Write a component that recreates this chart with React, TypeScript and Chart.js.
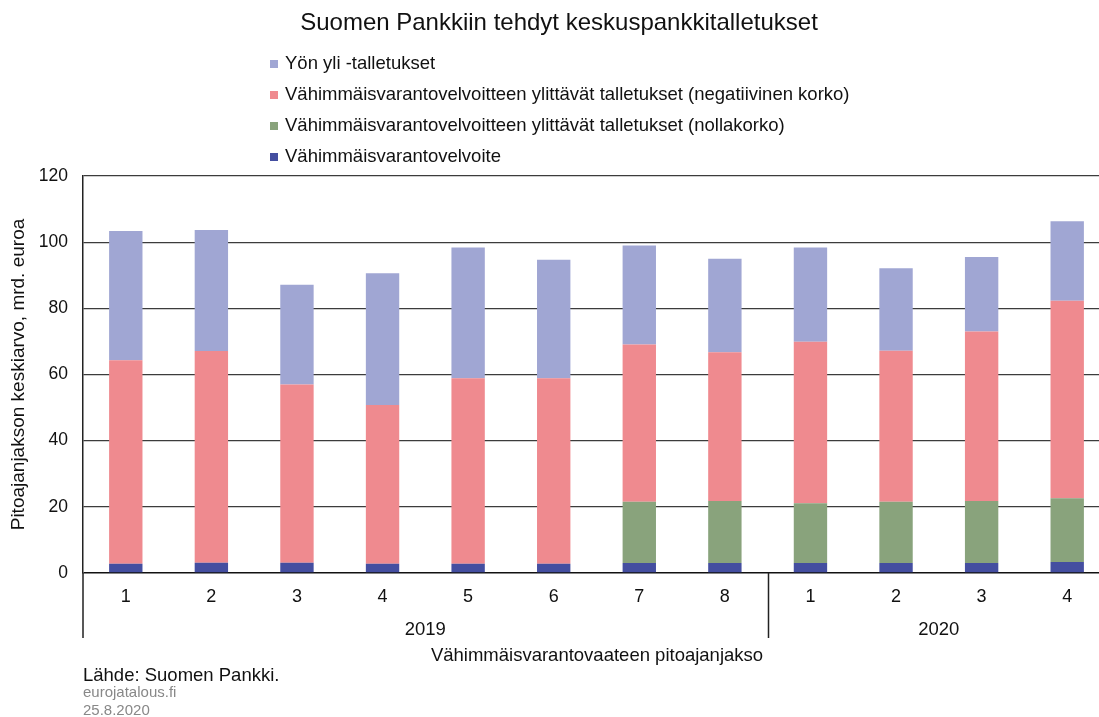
import React, { useEffect, useRef } from "react";
import { Chart, registerables } from "chart.js";

Chart.register(...registerables);

const chartTitle = "Suomen Pankkiin tehdyt keskuspankkitalletukset";
const periods = ["1", "2", "3", "4", "5", "6", "7", "8", "1", "2", "3", "4"];
const years = ["2019", "2020"];
const yearSpans = [8, 4];
const velvoite = [2.8, 3.1, 3.1, 2.8, 2.8, 2.8, 3.0, 3.0, 3.0, 3.0, 3.0, 3.3];
const nollakorko = [0, 0, 0, 0, 0, 0, 18.5, 18.8, 18.1, 18.5, 18.8, 19.3];
const negatiivinen = [61.5, 64.0, 53.9, 48.0, 56.1, 56.1, 47.6, 44.9, 48.8, 45.7, 51.2, 59.7];
const yonYli = [39.1, 36.6, 30.1, 39.8, 39.5, 35.8, 29.9, 28.3, 28.5, 24.9, 22.5, 24.0];
const seriesLabels = [
  "Vähimmäisvarantovelvoite",
  "Vähimmäisvarantovelvoitteen ylittävät talletukset (nollakorko)",
  "Vähimmäisvarantovelvoitteen ylittävät talletukset (negatiivinen korko)",
  "Yön yli -talletukset",
];
const seriesColors = ["#444ea0", "#89a37c", "#ef8a8f", "#a0a6d3"];
const yTitle = "Pitoajanjakson keskiarvo, mrd. euroa";
const xTitle = "Vähimmäisvarantovaateen pitoajanjakso";
const source = "Lähde: Suomen Pankki.";
const site = "eurojatalous.fi";
const dateText = "25.8.2020";

const FONT = '"Liberation Sans", Arial, sans-serif';
const W = 1120;
const H = 717;

const overlay = {
  id: "overlay",
  afterDraw(chart: any) {
    const ctx = chart.ctx as CanvasRenderingContext2D;
    const area = chart.chartArea;
    const xs = chart.scales.x;
    ctx.save();
    // title
    ctx.fillStyle = "#111";
    ctx.font = `24px ${FONT}`;
    ctx.textAlign = "center";
    ctx.textBaseline = "middle";
    ctx.fillText(chartTitle, 559, 23);
    // legend (reverse order)
    ctx.font = `18.5px ${FONT}`;
    ctx.textAlign = "left";
    const order = [3, 2, 1, 0];
    order.forEach((di, i) => {
      const y = 64 + i * 31;
      ctx.fillStyle = seriesColors[di];
      ctx.fillRect(270, y - 4, 8, 8);
      ctx.fillStyle = "#111";
      ctx.fillText(seriesLabels[di], 285, y);
    });
    // y title
    ctx.save();
    ctx.translate(19, (area.top + area.bottom) / 2);
    ctx.rotate(-Math.PI / 2);
    ctx.textAlign = "center";
    ctx.fillStyle = "#111";
    ctx.font = `19px ${FONT}`;
    ctx.fillText(yTitle, 0, 0);
    ctx.restore();
    // axis extension & separators
    ctx.strokeStyle = "#222";
    ctx.lineWidth = 1.5;
    const sepBottom = 638;
    ctx.beginPath();
    ctx.moveTo(area.left, area.bottom);
    ctx.lineTo(area.left, sepBottom);
    let start = 0;
    yearSpans.forEach((span, gi) => {
      const end = start + span;
      const half = (xs.getPixelForValue(1) - xs.getPixelForValue(0)) / 2;
      const x0 = xs.getPixelForValue(start) - half;
      const x1 = xs.getPixelForValue(end - 1) + half;
      if (gi < yearSpans.length - 1) {
        ctx.moveTo(Math.round(x1) + 0.5, area.bottom);
        ctx.lineTo(Math.round(x1) + 0.5, sepBottom);
      }
      ctx.fillStyle = "#111";
      ctx.textAlign = "center";
      ctx.font = `18.5px ${FONT}`;
      ctx.fillText(years[gi], (x0 + Math.min(x1, area.right)) / 2, 630);
      start = end;
    });
    ctx.stroke();
    // x title
    ctx.fillStyle = "#111";
    ctx.textAlign = "center";
    ctx.font = `18.5px ${FONT}`;
    ctx.fillText(xTitle, 597, 656);
    // footer
    ctx.textAlign = "left";
    ctx.fillText(source, 83, 676);
    ctx.fillStyle = "#888";
    ctx.font = `15px ${FONT}`;
    ctx.fillText(site, 83, 693);
    ctx.fillText(dateText, 83, 711);
    ctx.restore();
  },
};

export default function App() {
  const ref = useRef<HTMLCanvasElement | null>(null);
  useEffect(() => {
    if (!ref.current) return;
    const data = [velvoite, nollakorko, negatiivinen, yonYli];
    const chart = new Chart(ref.current, {
      type: "bar",
      data: {
        labels: periods,
        datasets: data.map((d, i) => ({
          label: seriesLabels[i],
          data: d,
          backgroundColor: seriesColors[i],
          borderWidth: 0,
          barPercentage: 0.39,
          categoryPercentage: 1,
        })),
      },
      options: {
        animation: false,
        responsive: false,
        maintainAspectRatio: false,
        layout: { padding: { top: 176, left: 0, right: 10, bottom: 0 } },
        plugins: {
          legend: { display: false },
          title: { display: false },
          tooltip: { enabled: false },
        },
        scales: {
          x: {
            stacked: true,
            grid: { display: false, drawTicks: false },
            border: { display: false },
            ticks: { color: "#111", font: { family: FONT, size: 18 }, padding: 13, maxRotation: 0 },
            afterFit: (s: any) => {
              s.height = H - 573;
            },
          },
          y: {
            stacked: true,
            min: 0,
            max: 120,
            ticks: { stepSize: 20, color: "#111", font: { family: FONT, size: 17.5 }, padding: 15 },
            grid: {
              drawTicks: false,
              color: (c: any) => (c.tick && c.tick.value === 0 ? "#111" : "#3c3c3c"),
              lineWidth: (c: any) => (c.tick && c.tick.value === 0 ? 1.6 : 1.3),
            },
            border: { display: true, color: "#222", width: 1.5 },
            afterFit: (s: any) => {
              s.width = 83;
            },
          },
        },
      },
      plugins: [overlay],
    });
    return () => chart.destroy();
  }, []);
  return (
    <div style={{ position: "fixed", left: 0, top: 0, width: W, height: H, background: "#fff", overflow: "hidden" }}>
      <canvas ref={ref} width={W} height={H} style={{ width: W, height: H, display: "block" }} />
    </div>
  );
}
